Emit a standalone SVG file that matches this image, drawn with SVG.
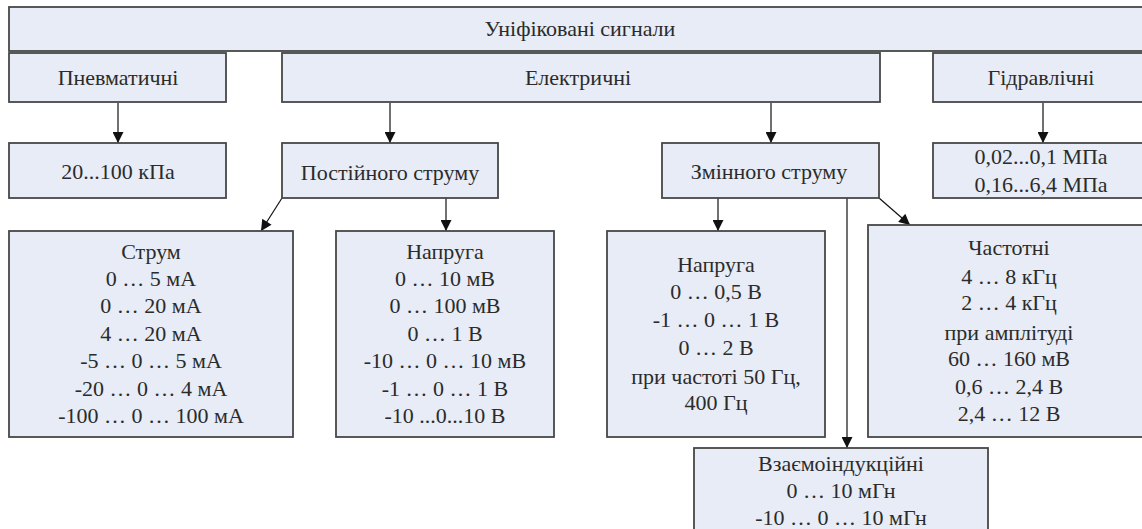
<svg xmlns="http://www.w3.org/2000/svg" width="1142" height="529" viewBox="0 0 1142 529">
<style>
.box{fill:#e7ecf6;stroke:#474747;stroke-width:1.8}
.t{font-family:"Liberation Serif","Tinos","Times New Roman","DejaVu Serif",serif;font-size:22px;fill:#2b2b2b;text-anchor:middle}
.c{stroke:#111;stroke-width:1.2;fill:none;marker-end:url(#ah)}
</style>
<defs>
<marker id="ah" viewBox="0 0 10 10" refX="10" refY="5" markerWidth="13" markerHeight="11" markerUnits="userSpaceOnUse" orient="auto">
<path d="M0,0 L10,5 L0,10 z" fill="#111"/>
</marker>
</defs>
<rect width="1142" height="529" fill="#ffffff"/>
<g id="connectors">
<line class="c" x1="118" y1="103" x2="118" y2="143"/>
<line class="c" x1="390" y1="103" x2="390" y2="143"/>
<line class="c" x1="771" y1="103" x2="771" y2="143"/>
<line class="c" x1="1043" y1="103" x2="1043" y2="143"/>
<line class="c" x1="282" y1="198" x2="261" y2="231"/>
<line class="c" x1="446" y1="198" x2="446" y2="231"/>
<line class="c" x1="718" y1="198" x2="718" y2="231"/>
<line class="c" x1="879" y1="198" x2="910" y2="225"/>
<line class="c" x1="847" y1="198" x2="847" y2="448"/>
</g>
<g id="n-root"><rect class="box" x="9" y="7" width="1142" height="44"/><text class="t" x="580" y="36">Уніфіковані сигнали</text></g>
<g id="n-pneu"><rect class="box" x="9" y="53" width="217" height="49"/><text class="t" x="118" y="85">Пневматичні</text></g>
<g id="n-elec"><rect class="box" x="282" y="53" width="598" height="49"/><text class="t" x="578" y="85">Електричні</text></g>
<g id="n-hydr"><rect class="box" x="933" y="53" width="217" height="49"/><text class="t" x="1041" y="85">Гідравлічні</text></g>
<g id="n-kpa"><rect class="box" x="9" y="143" width="217" height="55"/><text class="t" x="118" y="179">20...100 кПа</text></g>
<g id="n-dc"><rect class="box" x="282" y="143" width="216" height="55"/><text class="t" x="390" y="180">Постійного струму</text></g>
<g id="n-ac"><rect class="box" x="662" y="143" width="217" height="55"/><text class="t" x="769" y="179">Змінного струму</text></g>
<g id="n-mpa"><rect class="box" x="933" y="143" width="217" height="55"/><text class="t" x="1041" y="164">0,02...0,1 МПа</text><text class="t" x="1041" y="192">0,16...6,4 МПа</text></g>
<g id="n-current"><rect class="box" x="9" y="231" width="284" height="206"/>
<text class="t" x="151" y="259">Струм</text>
<text class="t" x="151" y="286">0 … 5 мА</text>
<text class="t" x="151" y="313">0 … 20 мА</text>
<text class="t" x="151" y="341">4 … 20 мА</text>
<text class="t" x="151" y="368">-5 … 0 … 5 мА</text>
<text class="t" x="151" y="396">-20 … 0 … 4 мА</text>
<text class="t" x="151" y="423">-100 … 0 … 100 мА</text>
</g>
<g id="n-dcvolt"><rect class="box" x="336" y="231" width="218" height="206"/>
<text class="t" x="445" y="259">Напруга</text>
<text class="t" x="445" y="286">0 … 10 мВ</text>
<text class="t" x="445" y="313">0 … 100 мВ</text>
<text class="t" x="445" y="341">0 … 1 В</text>
<text class="t" x="445" y="368">-10 … 0 … 10 мВ</text>
<text class="t" x="445" y="396">-1 … 0 … 1 В</text>
<text class="t" x="445" y="423">-10 ...0...10 В</text>
</g>
<g id="n-acvolt"><rect class="box" x="607" y="231" width="218" height="206"/>
<text class="t" x="716" y="272">Напруга</text>
<text class="t" x="716" y="299">0 … 0,5 В</text>
<text class="t" x="716" y="327">-1 … 0 … 1 В</text>
<text class="t" x="716" y="355">0 … 2 В</text>
<text class="t" x="716" y="384">при частоті 50 Гц,</text>
<text class="t" x="716" y="410">400 Гц</text>
</g>
<g id="n-freq"><rect class="box" x="868" y="225" width="282" height="212"/>
<text class="t" x="1009" y="255">Частотні</text>
<text class="t" x="1009" y="284">4 … 8 кГц</text>
<text class="t" x="1009" y="310">2 … 4 кГц</text>
<text class="t" x="1009" y="340">при амплітуді</text>
<text class="t" x="1009" y="366">60  … 160 мВ</text>
<text class="t" x="1009" y="394">0,6 … 2,4 В</text>
<text class="t" x="1009" y="421">2,4 … 12 В</text>
</g>
<g id="n-mutual"><rect class="box" x="694" y="448" width="294" height="95"/>
<text class="t" x="841" y="471">Взаємоіндукційні</text>
<text class="t" x="841" y="498">0 … 10 мГн</text>
<text class="t" x="841" y="525">-10 … 0 … 10 мГн</text>
</g>
</svg>
